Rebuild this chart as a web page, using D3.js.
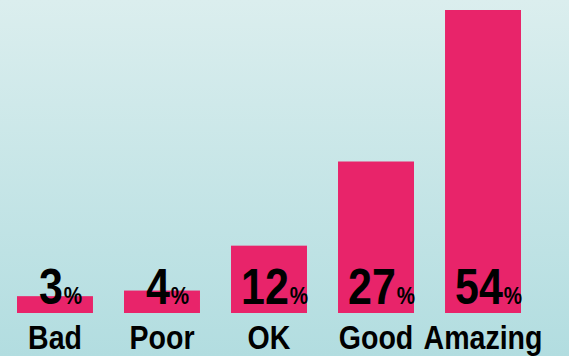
<!DOCTYPE html>
<html>
<head>
<meta charset="utf-8">
<script src="https://cdn.jsdelivr.net/npm/d3@7"></script>
<style>
  html, body { margin: 0; padding: 0; overflow: hidden; }
  svg { display: block; }
  .val, .cat { font-family: 'Liberation Sans', Arial, sans-serif; font-weight: 700; fill: #000; }
</style>
</head>
<body>
<svg id="chart" width="569" height="356"></svg>
<script>
// Survey ratings and the share of answers for each
const categories = ["Bad", "Poor", "OK", "Good", "Amazing"];
const shares = [3, 4, 12, 27, 54];
const unit = "%";

const W = 569, H = 356;
const svg = d3.select("#chart");

// soft teal background fading downward
const defs = svg.append("defs");
const grad = defs.append("linearGradient")
  .attr("id", "bg").attr("x1", 0).attr("y1", 0).attr("x2", 0).attr("y2", 1);
grad.append("stop").attr("offset", "0%").attr("stop-color", "#dbeeee");
grad.append("stop").attr("offset", "100%").attr("stop-color", "#b2dde0");
svg.append("rect").attr("width", W).attr("height", H).attr("fill", "url(#bg)");

const x = d3.scaleBand()
  .domain(categories)
  .range([17, 521])
  .paddingInner(0.29)
  .paddingOuter(0);

const y = d3.scaleLinear().domain([0, 54]).range([313, 10]);

const data = categories.map((c, i) => ({ cat: c, v: shares[i] }));
const cx = d => x(d.cat) + x.bandwidth() / 2;

svg.append("g").selectAll("rect")
  .data(data).join("rect")
  .attr("x", d => x(d.cat))
  .attr("y", d => y(d.v))
  .attr("width", x.bandwidth())
  .attr("height", d => y(0) - y(d.v))
  .attr("fill", "#e8246a");

// value labels: big narrow number followed by a small percent sign
const squeeze = 0.86;
const vals = svg.append("g").selectAll("g")
  .data(data).join("g")
  .attr("transform", d => `translate(${cx(d) - 4},304) scale(${squeeze},1)`);
vals.append("text")
  .attr("class", "val")
  .attr("font-size", 50)
  .attr("text-anchor", "middle")
  .text(d => d.v);
vals.append("text")
  .attr("class", "val")
  .attr("font-size", 24)
  .attr("x", function () {
    const num = this.parentNode.querySelector("text");
    return num.getComputedTextLength() / 2 + 1;
  })
  .text(unit);

// category labels under the bars
const cats = svg.append("g").selectAll("text")
  .data(data).join("text")
  .attr("class", "cat")
  .attr("font-size", 34)
  .attr("text-anchor", "middle")
  .attr("transform", d => `translate(${cx(d)},${y(0) + 36}) scale(0.84,1)`)
  .text(d => d.cat);
</script>
</body>
</html>
